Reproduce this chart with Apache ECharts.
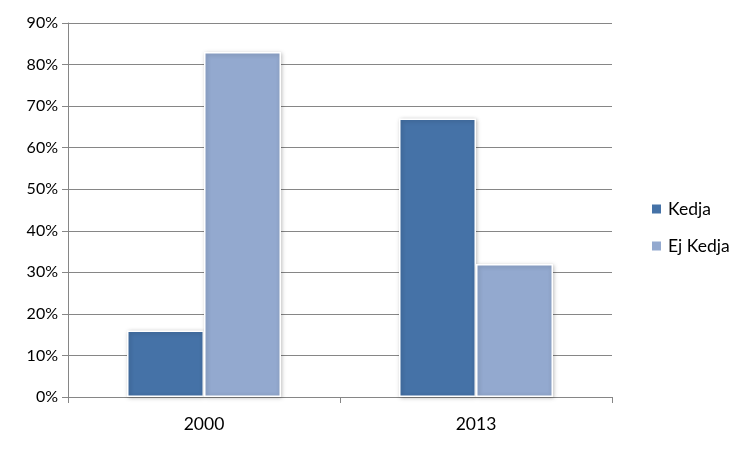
<!DOCTYPE html>
<html>
<head>
<meta charset="utf-8">
<script src="https://cdn.jsdelivr.net/npm/echarts@6/dist/echarts.min.js"></script>
<style>html,body{margin:0;padding:0;background:#fff}#c{width:750px;height:450px}</style>
</head>
<body>
<div id="c"></div>
<script>
const categories = ['2000', '2013'];
const kedja = [16, 67];
const ejKedja = [83, 32];
const seriesNames = ['Kedja', 'Ej Kedja'];

const font = 'Lato, "Liberation Sans", sans-serif';
const chart = echarts.init(document.getElementById('c'));
const barStyle = (color) => ({
  color: color,
  borderColor: '#ffffff',
  borderWidth: 1.5,
  shadowColor: 'rgba(0,0,0,0.25)',
  shadowBlur: 4,
  shadowOffsetX: 1,
  shadowOffsetY: 1
});
chart.setOption({
  animation: false,
  grid: { left: 68, right: 138, top: 23, bottom: 53 },
  legend: {
    orient: 'vertical',
    left: 645,
    top: 195,
    itemWidth: 11,
    itemHeight: 11,
    itemGap: 19,
    icon: 'rect',
    textStyle: { fontFamily: font, fontSize: 17.5, color: '#000', padding: [0, 0, 0, 1] },
    data: seriesNames
  },
  xAxis: {
    type: 'category',
    data: categories,
    axisLine: { lineStyle: { color: '#868686', width: 1 } },
    axisTick: { show: true, length: 6, lineStyle: { color: '#868686' } },
    axisLabel: { fontFamily: font, fontSize: 17.5, color: '#000', margin: 18 }
  },
  yAxis: {
    type: 'value',
    min: 0,
    max: 90,
    interval: 10,
    axisLine: { show: true, lineStyle: { color: '#868686', width: 1 } },
    axisTick: { show: true, length: 6, lineStyle: { color: '#868686' } },
    axisLabel: { fontFamily: font, fontSize: 16, color: '#000', margin: 10, formatter: '{value}%' },
    splitLine: { lineStyle: { color: '#868686', width: 1 } }
  },
  series: [
    { name: seriesNames[0], type: 'bar', data: kedja, barWidth: 77, barGap: '0%', itemStyle: barStyle('#4572A7') },
    { name: seriesNames[1], type: 'bar', data: ejKedja, barWidth: 77, barGap: '0%', itemStyle: barStyle('#93A9CF') }
  ]
});
</script>
</body>
</html>
